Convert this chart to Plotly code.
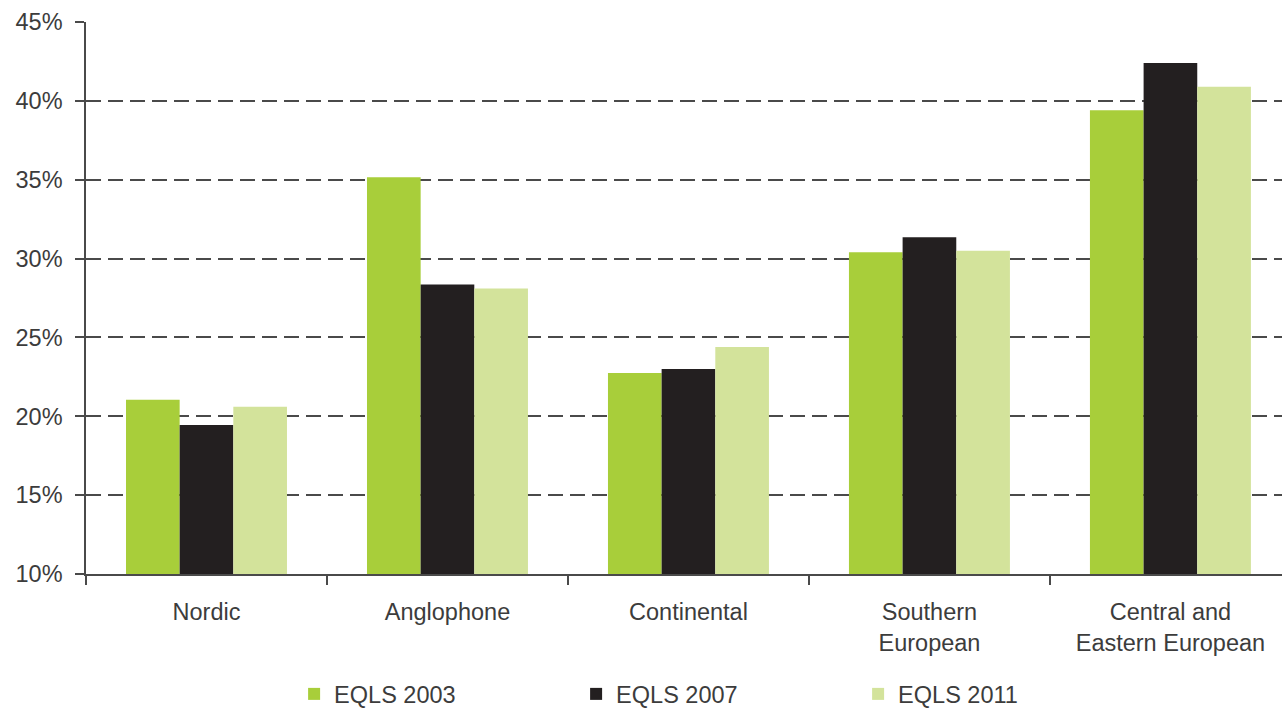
import plotly.graph_objects as go

# Share of respondents by welfare regime, three survey waves
regimes = ["Nordic", "Anglophone", "Continental", "Southern<br>European",
           "Central and<br>Eastern European"]
eqls_2003 = [21.05, 35.15, 22.75, 30.4, 39.4]
eqls_2007 = [19.45, 28.35, 23.0, 31.35, 42.4]
eqls_2011 = [20.6, 28.1, 24.4, 30.5, 40.9]
y_ticks = [10, 15, 20, 25, 30, 35, 40, 45]
y_tick_text = [f"{v}%" for v in y_ticks]

series = [
    ("EQLS 2003", eqls_2003, "#a8ce3a"),
    ("EQLS 2007", eqls_2007, "#231f20"),
    ("EQLS 2011", eqls_2011, "#d3e39b"),
]

FONT = "Liberation Sans"
TXT = "#3c3c3c"
AX = "#4a4a4a"
FS = 23.5

x_pos = list(range(len(regimes)))

fig = go.Figure()
for name, vals, color in series:
    fig.add_trace(go.Bar(
        name=name, x=x_pos, y=vals, marker=dict(color=color, line=dict(width=0)),
    ))

fig.update_layout(
    width=1282, height=709,
    margin=dict(l=86, r=0, t=22, b=135, autoexpand=False),
    paper_bgcolor="white", plot_bgcolor="white",
    barmode="group", bargap=0.332, bargroupgap=0,
    font=dict(family=FONT, color=TXT, size=FS),
    legend=dict(
        orientation="h", xref="paper", yref="container",
        x=0.174, y=0.021, xanchor="left", yanchor="middle",
        entrywidth=237, entrywidthmode="pixels",
        font=dict(family=FONT, size=FS, color=TXT),
        itemclick=False,
    ),
    xaxis=dict(
        range=[-0.5, 4.463], automargin=False,
        tickmode="array", tickvals=x_pos, ticktext=regimes,
        ticks="", showgrid=False, zeroline=False,
        showline=True, linecolor=AX, linewidth=1.5,
        ticklabelstandoff=16,
        tickfont=dict(family=FONT, size=FS, color=TXT),
        minor=dict(tickmode="linear", tick0=-0.5, dtick=1, ticks="outside",
                   ticklen=9, tickcolor=AX, tickwidth=1.5, showgrid=False),
    ),
    yaxis=dict(
        range=[10, 45], automargin=False,
        tickmode="array", tickvals=y_ticks, ticktext=y_tick_text,
        ticks="outside", ticklen=9, tickcolor=AX, tickwidth=1.5,
        showline=True, linecolor=AX, linewidth=1.5,
        showgrid=True, gridcolor=AX, gridwidth=1.5, griddash="15px,7px",
        zeroline=False, ticklabelstandoff=8,
        tickfont=dict(family=FONT, size=FS, color=TXT),
    ),
)

fig.write_html("out.html")
